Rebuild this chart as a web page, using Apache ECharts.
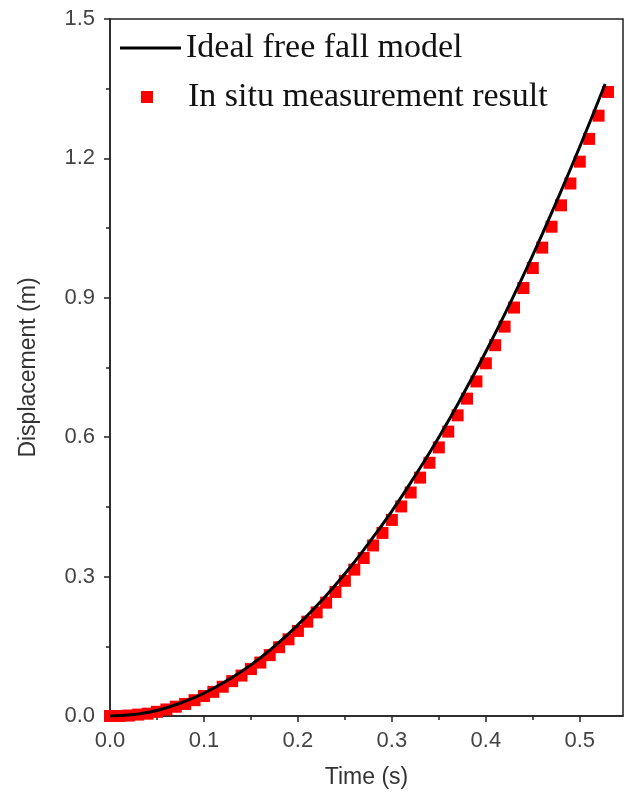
<!DOCTYPE html>
<html>
<head>
<meta charset="utf-8">
<script src="https://cdn.jsdelivr.net/npm/echarts@6/dist/echarts.min.js"></script>
<style>
  html, body { margin: 0; padding: 0; background: #fff; }
  #chart { width: 628px; height: 792px; }
</style>
</head>
<body>
<div id="chart"></div>
<script>
// Ideal free fall curve (time in s, displacement in m)
const idealTime = [0, 0.025, 0.05, 0.075, 0.1, 0.125, 0.15, 0.175, 0.2, 0.225, 0.25, 0.275,
  0.3, 0.325, 0.35, 0.375, 0.4, 0.425, 0.45, 0.475, 0.5, 0.527];
const idealDisp = [0, 0.003, 0.012, 0.028, 0.049, 0.077, 0.110, 0.150, 0.196, 0.248, 0.306, 0.371,
  0.441, 0.518, 0.600, 0.689, 0.784, 0.885, 0.992, 1.106, 1.225, 1.360];

// In situ measurement samples
const measTime = [0.00, 0.01, 0.02, 0.03, 0.04, 0.05, 0.06, 0.07, 0.08, 0.09,
  0.10, 0.11, 0.12, 0.13, 0.14, 0.15, 0.16, 0.17, 0.18, 0.19,
  0.20, 0.21, 0.22, 0.23, 0.24, 0.25, 0.26, 0.27, 0.28, 0.29,
  0.30, 0.31, 0.32, 0.33, 0.34, 0.35, 0.36, 0.37, 0.38, 0.39,
  0.40, 0.41, 0.42, 0.43, 0.44, 0.45, 0.46, 0.47, 0.48, 0.49,
  0.50, 0.51, 0.52, 0.53];
const measDisp = [0.000, 0.000, 0.001, 0.003, 0.005, 0.009, 0.014, 0.020, 0.026, 0.034,
  0.043, 0.052, 0.063, 0.075, 0.087, 0.101, 0.115, 0.131, 0.148, 0.165,
  0.183, 0.203, 0.223, 0.244, 0.267, 0.291, 0.315, 0.340, 0.367, 0.394,
  0.422, 0.451, 0.481, 0.513, 0.545, 0.578, 0.612, 0.647, 0.683, 0.720,
  0.759, 0.798, 0.838, 0.879, 0.921, 0.964, 1.008, 1.053, 1.099, 1.146,
  1.193, 1.242, 1.292, 1.343];

// Axis ticks
const xTicks = [0, 0.1, 0.2, 0.3, 0.4, 0.5];
const xMinorTicks = [0.05, 0.15, 0.25, 0.35, 0.45];

const seriesNames = ['Ideal free fall model', 'In situ measurement result'];

const chart = echarts.init(document.getElementById('chart'), null, { renderer: 'canvas' });

const axisColor = '#222';
const sansFont = '"Liberation Sans", Arial, sans-serif';
const serifFont = '"Liberation Serif", "Times New Roman", serif';

chart.setOption({
  backgroundColor: '#fff',
  animation: false,
  grid: {
    left: 110, right: 5, top: 19, bottom: 76,
    outerBoundsMode: 'none',
    show: true, borderColor: axisColor, borderWidth: 1.5, backgroundColor: 'transparent'
  },
  legend: [
    {
      data: [{ name: seriesNames[0], icon: 'rect' }],
      left: 120, top: 31, padding: 0,
      itemWidth: 61, itemHeight: 3,
      itemStyle: { color: '#000' },
      textStyle: { fontFamily: serifFont, fontSize: 34, color: '#111' }
    },
    {
      data: [{ name: seriesNames[1], icon: 'rect' }],
      left: 141, top: 80, padding: 0,
      itemWidth: 12, itemHeight: 12,
      textStyle: { fontFamily: serifFont, fontSize: 34, color: '#111', padding: [0, 0, 0, 30] }
    }
  ],
  xAxis: [
    {
      type: 'value', min: 0, max: 0.546,
      name: 'Time (s)', nameLocation: 'middle', nameGap: 50,
      nameTextStyle: { fontFamily: sansFont, fontSize: 23, color: '#333' },
      axisLine: { show: true, lineStyle: { color: axisColor, width: 1.5 } },
      axisTick: { show: true, customValues: xTicks, length: 6, lineStyle: { color: axisColor, width: 1.5 } },
      axisLabel: {
        customValues: xTicks, margin: 14,
        fontFamily: sansFont, fontSize: 22, color: '#444',
        formatter: v => v.toFixed(1)
      },
      splitLine: { show: false }
    },
    {
      type: 'value', min: 0, max: 0.546, position: 'bottom',
      axisLine: { show: false },
      axisTick: { show: true, customValues: xMinorTicks, length: 4, lineStyle: { color: axisColor, width: 1.5 } },
      axisLabel: { show: false },
      splitLine: { show: false }
    }
  ],
  yAxis: {
    type: 'value', min: 0, max: 1.5, interval: 0.3,
    name: 'Displacement (m)', nameLocation: 'middle', nameGap: 70,
    nameTextStyle: { fontFamily: sansFont, fontSize: 23, color: '#333' },
    axisLine: { show: true, lineStyle: { color: axisColor, width: 1.5 } },
    axisTick: { show: true, length: 6, lineStyle: { color: axisColor, width: 1.5 } },
    minorTick: { show: true, splitNumber: 2, length: 4, lineStyle: { color: axisColor, width: 1.5 } },
    axisLabel: {
      margin: 15, fontFamily: sansFont, fontSize: 22, color: '#444',
      formatter: v => v.toFixed(1)
    },
    splitLine: { show: false }
  },
  series: [
    {
      name: seriesNames[1],
      type: 'scatter',
      symbol: 'rect', symbolSize: 12,
      itemStyle: { color: '#ff0000', opacity: 1 },
      data: measTime.map((t, i) => [t, measDisp[i]]),
      z: 2
    },
    {
      name: seriesNames[0],
      type: 'line',
      smooth: true,
      showSymbol: false, symbol: 'none',
      lineStyle: { color: '#000', width: 3 },
      itemStyle: { color: '#000' },
      data: idealTime.map((t, i) => [t, idealDisp[i]]),
      z: 3
    }
  ]
});
</script>
</body>
</html>
